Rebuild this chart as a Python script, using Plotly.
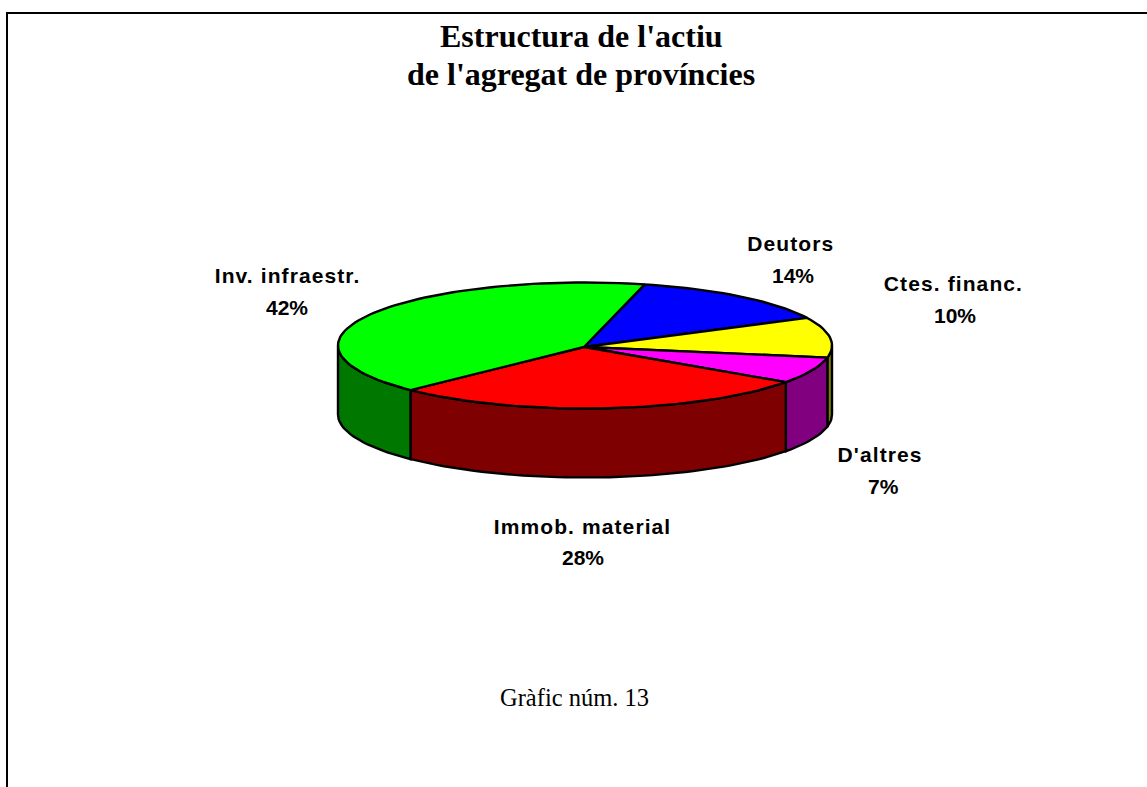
import math
import plotly.graph_objects as go

# Data, clockwise from the start angle
categories = ["Deutors", "Ctes. financ.", "D'altres", "Immob. material", "Inv. infraestr."]
values = [13.9, 10.3, 6.8, 27.6, 41.4]
pct_labels = ["14%", "10%", "7%", "28%", "42%"]
top_colors = ["#0000FF", "#FFFF00", "#FF00FF", "#FF0000", "#00FF00"]
side_colors = ["#000080", "#808000", "#800080", "#7F0000", "#007800"]

title_lines = ["Estructura de l'actiu", "de l'agregat de províncies"]
caption = "Gràfic núm. 13"

# Geometry of the tilted pie, in pixels of the page
CX, CY, RX, RY, DEPTH = 585, 345.5, 247, 63, 69
APEX = (584, 347)
START = 76.0

# label centres: (name x, name y, percent x, percent y)
label_pos = [
    (790, 243, 793, 275),
    (953, 283, 955, 315),
    (880, 454, 883, 486),
    (582, 526, 583, 557),
    (287, 275, 287, 307),
]


def rim(t):
    r = math.radians(t)
    return CX + RX * math.cos(r), CY - RY * math.sin(r)


def arc(a, b, step=2.0):
    n = max(2, int(abs(b - a) / step) + 1)
    return [a + (b - a) * i / (n - 1) for i in range(n)]


fig = go.Figure()
total = sum(values)
angles = [START]
for v in values:
    angles.append(angles[-1] - 360 * v / total)

# Frame: top and left edges only
fig.add_trace(go.Scatter(x=[7, 7, 1147], y=[787, 13, 13], mode="lines",
                         line=dict(color="black", width=2), hoverinfo="skip", showlegend=False))


def add_poly(xs, ys, color, name):
    fig.add_trace(go.Scatter(x=xs, y=ys, mode="lines", fill="toself", fillcolor=color,
                             line=dict(color="black", width=2.4), name=name,
                             hoverinfo="name", showlegend=False))


# Side walls: only the part of each slice on the front half (-180..0 degrees)
for i, cat in enumerate(categories):
    a0, a1 = angles[i], angles[i + 1]
    lo_a = min(a0, 0)
    hi_a = max(a1, -180)
    if lo_a <= hi_a:
        continue
    ts = arc(lo_a, hi_a)
    pts = [rim(t) for t in ts]
    xs = [p[0] for p in pts] + [p[0] for p in reversed(pts)]
    ys = [p[1] for p in pts] + [p[1] + DEPTH for p in reversed(pts)]
    add_poly(xs + [xs[0]], ys + [ys[0]], side_colors[i], cat)

# Top faces
for i, cat in enumerate(categories):
    pts = [rim(t) for t in arc(angles[i], angles[i + 1])]
    xs = [APEX[0]] + [p[0] for p in pts] + [APEX[0]]
    ys = [APEX[1]] + [p[1] for p in pts] + [APEX[1]]
    add_poly(xs, ys, top_colors[i], f"{cat}: {pct_labels[i]}")

ann = []
SANS = dict(family="Liberation Sans", size=21, color="black")
for i, cat in enumerate(categories):
    nx, ny, px, py = label_pos[i]
    ann.append(dict(x=nx, y=ny, text=f"<b>{cat}</b>", showarrow=False, font=SANS,
                    xanchor="center", yanchor="middle"))
    ann.append(dict(x=px, y=py, text=f"<b>{pct_labels[i]}</b>", showarrow=False, font=SANS,
                    xanchor="center", yanchor="middle"))
SERIF = dict(family="Liberation Serif", size=32, color="black")
for line, y in zip(title_lines, (36.2, 74.2)):
    ann.append(dict(x=581, y=y, text=f"<b>{line}</b>", showarrow=False, font=SERIF,
                    xanchor="center", yanchor="middle"))
ann.append(dict(x=574.5, y=697, text=caption, showarrow=False,
                font=dict(family="Liberation Serif", size=24.5, color="black"),
                xanchor="center", yanchor="middle"))

fig.update_layout(
    width=1147, height=787, margin=dict(l=0, r=0, t=0, b=0),
    paper_bgcolor="white", plot_bgcolor="white", annotations=ann,
    xaxis=dict(range=[0, 1147], visible=False, fixedrange=True),
    yaxis=dict(range=[787, 0], visible=False, fixedrange=True),
)
post = """
document.body.style.margin='0';document.body.style.overflow='hidden';
document.querySelectorAll('text.annotation-text').forEach(function(t){
  var s=t.textContent;
  if(t.style.fontFamily.indexOf('Liberation Sans')>=0 && s.indexOf('%')<0){t.style.letterSpacing='1.1px';}
});
"""
fig.write_html("out.html", config={"displayModeBar": False}, post_script=post)
